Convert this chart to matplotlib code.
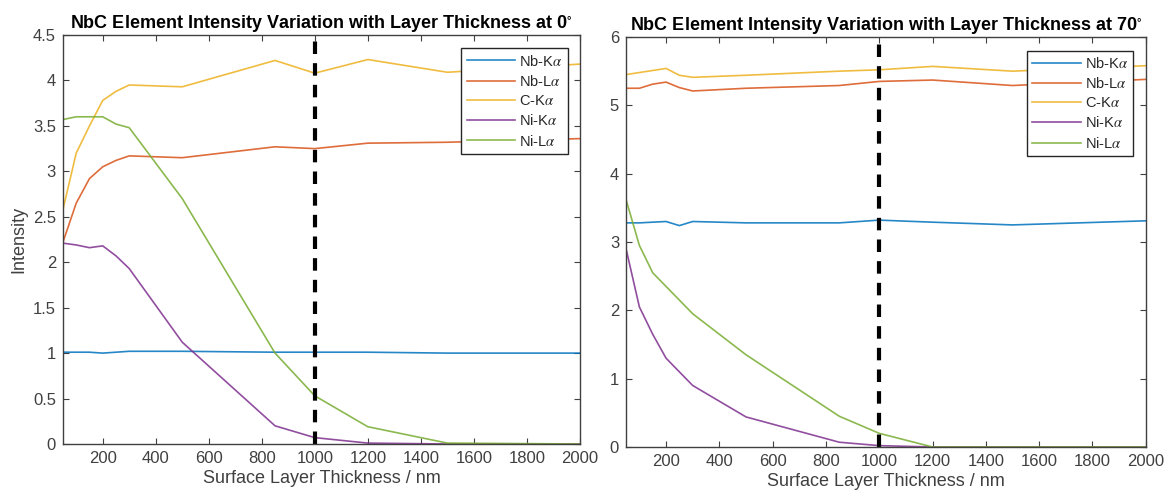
import numpy as np
import matplotlib.pyplot as plt

plt.rcParams['font.family'] = ['Liberation Sans', 'DejaVu Sans']
plt.rcParams['mathtext.fontset'] = 'stix'

# thickness points (nm)
x = [50, 100, 150, 200, 250, 300, 500, 850, 1000, 1200, 1500, 2000]

labels = ['Nb-K$\\alpha$', 'Nb-L$\\alpha$', 'C-K$\\alpha$', 'Ni-K$\\alpha$', 'Ni-L$\\alpha$']
colors = ['#0072BD', '#D95319', '#EDB120', '#7E2F8E', '#77AC30']

# 0 degree
nbk_0 = [1.01, 1.01, 1.01, 1.00, 1.01, 1.02, 1.02, 1.01, 1.01, 1.01, 1.00, 1.00]
nbl_0 = [2.22, 2.65, 2.92, 3.05, 3.12, 3.17, 3.15, 3.27, 3.25, 3.31, 3.32, 3.36]
ck_0 = [2.58, 3.20, 3.50, 3.78, 3.88, 3.95, 3.93, 4.22, 4.08, 4.23, 4.09, 4.18]
nik_0 = [2.21, 2.19, 2.16, 2.18, 2.07, 1.93, 1.12, 0.20, 0.07, 0.01, 0.00, 0.00]
nil_0 = [3.57, 3.60, 3.60, 3.60, 3.52, 3.48, 2.70, 1.00, 0.53, 0.19, 0.01, 0.00]

# 70 degree
nbk_70 = [3.28, 3.28, 3.29, 3.30, 3.24, 3.30, 3.28, 3.28, 3.32, 3.29, 3.25, 3.31]
nbl_70 = [5.25, 5.25, 5.31, 5.34, 5.26, 5.21, 5.25, 5.29, 5.35, 5.37, 5.29, 5.38]
ck_70 = [5.45, 5.48, 5.51, 5.54, 5.44, 5.41, 5.44, 5.50, 5.52, 5.57, 5.50, 5.58]
nik_70 = [2.90, 2.05, 1.65, 1.30, 1.10, 0.90, 0.44, 0.07, 0.02, 0.00, 0.00, 0.00]
nil_70 = [3.62, 2.95, 2.55, 2.35, 2.15, 1.95, 1.35, 0.45, 0.20, 0.00, 0.00, 0.00]

fig = plt.figure(figsize=(11.68, 5), dpi=100)
ax1 = fig.add_axes([0.0539, 0.112, 0.4426, 0.818])
ax2 = fig.add_axes([0.536, 0.106, 0.445, 0.820])

panels = [
    (ax1, [nbk_0, nbl_0, ck_0, nik_0, nil_0], 'NbC Element Intensity Variation with Layer Thickness at 0$^{\\circ}$', (0, 4.5)),
    (ax2, [nbk_70, nbl_70, ck_70, nik_70, nil_70], 'NbC Element Intensity Variation with Layer Thickness at 70$^{\\circ}$', (0, 6)),
]

for ax, series, title, ylim in panels:
    for y, lab, c in zip(series, labels, colors):
        ax.plot(x, y, color=c, lw=1.2, alpha=0.85, label=lab)
    leg = ax.legend(loc='upper right', fontsize=10.5, fancybox=False, framealpha=1,
                    edgecolor='#262626', handlelength=3.3, handletextpad=0.3,
                    borderpad=0.35, labelspacing=0.36, borderaxespad=0,
                    bbox_to_anchor=(0.976, 0.967))
    leg.get_frame().set_linewidth(1.0)
    for t in leg.get_texts():
        t.set_color('#262626')
    ax.axvline(1000, color='black', ls='--', lw=3, dashes=(3, 2.2))
    ax.set_xlim(50, 2000)
    ax.set_ylim(*ylim)
    ax.set_xticks(np.arange(200, 2001, 200))
    ax.set_title(title, fontsize=13, fontweight='bold', pad=5)
    ax.set_xlabel('Surface Layer Thickness / nm', fontsize=13, color='#404040', labelpad=3)
    ax.tick_params(direction='in', top=True, right=True, labelsize=12,
                   colors='#404040', length=4, pad=5)
    for s in ax.spines.values():
        s.set_color('#404040')
        s.set_linewidth(1.0)

ax1.set_yticks(np.arange(0, 4.51, 0.5))
ax1.set_yticklabels(['0', '0.5', '1', '1.5', '2', '2.5', '3', '3.5', '4', '4.5'])
ax1.set_ylabel('Intensity', fontsize=13, color='#404040', labelpad=4)
ax2.set_yticks(range(0, 7))

fig.savefig('out.png', dpi=100)
